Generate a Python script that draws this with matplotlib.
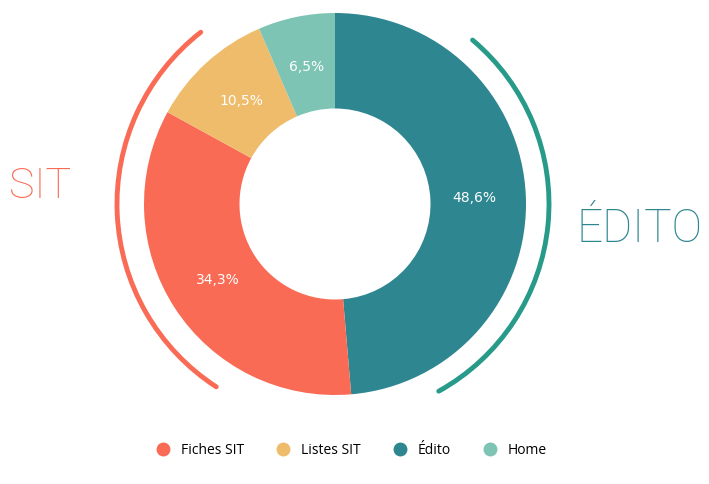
import matplotlib.pyplot as plt
from matplotlib.patches import Arc
from matplotlib.lines import Line2D

# données
categories = ["Édito", "Fiches SIT", "Listes SIT", "Home"]
values = [48.6, 34.3, 10.5, 6.5]
pct_labels = ["48,6%", "34,3%", "10,5%", "6,5%"]
colors = ["#2E8690", "#F96B55", "#EEBC6A", "#7DC4B5"]
legend_order = ["Fiches SIT", "Listes SIT", "Édito", "Home"]

W, H = 709, 484
fig = plt.figure(figsize=(W / 100, H / 100), dpi=100)
ax = fig.add_axes([0, 0, 1, 1])

cx, cy, R = 335, H - 204, 191

wedges, texts = ax.pie(values, labels=pct_labels, colors=colors, startangle=90,
                       counterclock=False, center=(cx, cy), radius=R,
                       labeldistance=0.73,
                       wedgeprops=dict(width=R * 0.5, linewidth=0),
                       textprops=dict(color="white", fontsize=10, family="DejaVu Sans"),
                       frame=True)
for t in texts:
    t.set_ha("center")
    t.set_va("center")
ax.set_xlim(0, W)
ax.set_ylim(0, H)
ax.set_aspect("equal")
ax.axis("off")

# arcs autour du donut
ax.add_patch(Arc((cx, cy), 2 * 218, 2 * 218, theta1=128, theta2=237,
                 color="#F96B55", lw=3.5, capstyle="round"))
ax.add_patch(Arc((cx, cy), 2 * 214, 2 * 214, theta1=-61, theta2=50,
                 color="#279A8A", lw=3.5, capstyle="round"))

ax.text(40, H - 187, "SIT", color="#F96B55", fontsize=31, family="Roboto",
        fontweight="light", ha="center", va="center")
ax.text(640, H - 229, "ÉDITO", color="#2E8690", fontsize=33, family="Roboto",
        fontweight="light", ha="center", va="center")

col = dict(zip(categories, colors))
handles = [Line2D([], [], marker="o", ls="", ms=9, color=col[c]) for c in legend_order]
fig.legend(handles, legend_order, loc="center", bbox_to_anchor=(348 / W, 1 - 450 / H),
           ncol=4, frameon=False, handletextpad=0.3, columnspacing=1.8,
           prop=dict(family="Open Sans", size=10))

fig.savefig("out.png", dpi=100)
